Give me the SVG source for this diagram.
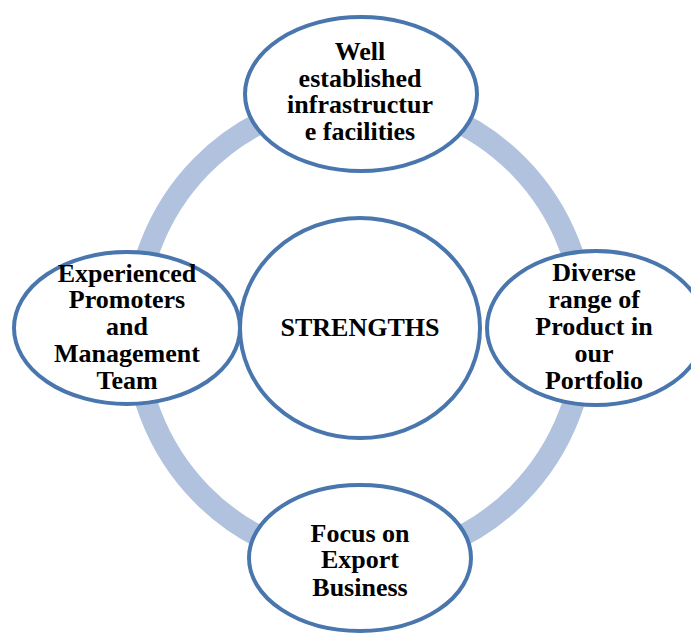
<svg xmlns="http://www.w3.org/2000/svg" width="691" height="635" viewBox="0 0 691 635">
<style>
.node{fill:#fff;stroke:#4A76AE;stroke-width:4}
.ring{fill:none;stroke:#B0C2DE;stroke-width:22}
text{font-family:"Liberation Serif","Times New Roman",serif;font-weight:bold;font-size:26px;fill:#000;text-anchor:middle}
</style>
<rect width="691" height="635" fill="#fff"/>
<g id="connectors">
<ellipse class="ring" cx="360" cy="330" rx="225" ry="231"/>
</g>
<g id="center">
<ellipse class="node" cx="360" cy="328" rx="120" ry="110"/>
<text x="360" y="336">STRENGTHS</text>
</g>
<g id="top">
<ellipse class="node" cx="361" cy="94" rx="116" ry="77"/>
<text x="360" y="60">Well</text>
<text x="360" y="87">established</text>
<text x="360" y="113">infrastructur</text>
<text x="360" y="140">e facilities</text>
</g>
<g id="left">
<ellipse class="node" cx="127" cy="328" rx="113" ry="76"/>
<text x="127" y="282">Experienced</text>
<text x="127" y="308">Promoters</text>
<text x="127" y="335">and</text>
<text x="127" y="362">Management</text>
<text x="127" y="389">Team</text>
</g>
<g id="right">
<ellipse class="node" cx="596" cy="328" rx="109" ry="77"/>
<text x="594" y="281">Diverse</text>
<text x="594" y="308">range of</text>
<text x="594" y="335">Product in</text>
<text x="594" y="362">our</text>
<text x="594" y="389">Portfolio</text>
</g>
<g id="bottom">
<ellipse class="node" cx="360" cy="558" rx="111" ry="73"/>
<text x="360" y="542">Focus on</text>
<text x="360" y="568">Export</text>
<text x="360" y="596">Business</text>
</g>
</svg>
